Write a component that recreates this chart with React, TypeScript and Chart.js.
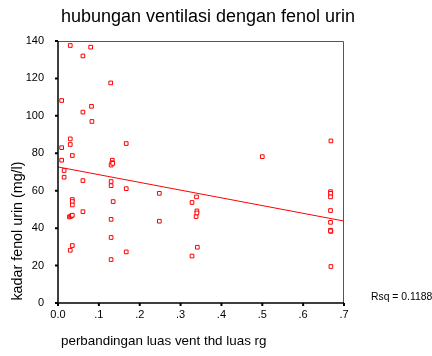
import React, { useEffect, useRef } from "react";
import { Chart, registerables } from "chart.js";

Chart.register(...registerables);

const TITLE = "hubungan ventilasi dengan fenol urin";
const X_LABEL = "perbandingan luas vent thd luas rg";
const Y_LABEL = "kadar fenol urin (mg/l)";
const RSQ_LABEL = "Rsq = 0.1188";

// ratio of vent area to room area
const ventRatio = [
  0.030, 0.080, 0.061, 0.129, 0.009, 0.061, 0.082, 0.083, 0.030, 0.030,
  0.009, 0.167, 0.009, 0.035, 0.133, 0.132, 0.130, 0.134, 0.015, 0.015,
  0.061, 0.130, 0.130, 0.167, 0.248, 0.328, 0.339, 0.035, 0.035, 0.035,
  0.135, 0.028, 0.031, 0.033, 0.035, 0.061, 0.130, 0.248, 0.338, 0.340,
  0.340, 0.130, 0.035, 0.030, 0.167, 0.130, 0.328, 0.341, 0.667, 0.667,
  0.667, 0.667, 0.667, 0.667, 0.668, 0.667, 0.668, 0.668, 0.500,
];
// urinary phenol (mg/l)
const phenol = [
  137.6, 136.7, 132.0, 117.6, 108.2, 102.0, 105.1, 97.0, 87.7, 84.7,
  83.0, 85.2, 76.3, 78.8, 76.3, 75.0, 73.7, 74.6, 70.8, 67.2,
  65.4, 64.9, 62.7, 61.1, 58.6, 53.7, 56.7, 55.3, 54.2, 52.4,
  54.2, 46.0, 46.3, 46.6, 46.9, 48.8, 44.7, 43.7, 46.2, 49.2,
  48.1, 35.0, 30.7, 28.2, 27.3, 23.2, 25.1, 29.8, 59.5, 58.6,
  56.7, 49.4, 43.1, 38.9, 38.3, 38.5, 19.5, 86.6, 78.2,
];

const FIT_INTERCEPT = 72.7;
const FIT_SLOPE = -41.3;
const X_RANGE = [0, 0.7];
const Y_RANGE = [0, 140];
const X_TICKS = [0, 0.1, 0.2, 0.3, 0.4, 0.5, 0.6, 0.7];
const Y_TICKS = [0, 20, 40, 60, 80, 100, 120, 140];

const RED = "#ff0000";
const FONT = "'Liberation Sans', Arial, sans-serif";

function fmtX(v: number) {
  if (Math.abs(v) < 1e-9) return "0.0";
  return "." + Math.round(v * 10);
}

export default function App() {
  const ref = useRef<HTMLCanvasElement>(null);
  useEffect(() => {
    if (!ref.current) return;
    const pts = ventRatio.map((x, i) => ({ x, y: phenol[i] }));
    const fit = X_RANGE.map((x) => ({ x, y: FIT_INTERCEPT + FIT_SLOPE * x }));

    const deco = {
      id: "deco",
      afterDraw(chart: any) {
        const { ctx, chartArea: a } = chart;
        ctx.save();
        // frame
        ctx.strokeStyle = "#555";
        ctx.lineWidth = 1;
        ctx.beginPath();
        ctx.moveTo(a.left, a.top + 0.5);
        ctx.lineTo(a.right - 0.5, a.top + 0.5);
        ctx.lineTo(a.right - 0.5, a.bottom);
        ctx.stroke();
        ctx.strokeStyle = "#000";
        ctx.lineWidth = 1.5;
        ctx.beginPath();
        ctx.moveTo(a.left, a.top);
        ctx.lineTo(a.left, a.bottom);
        ctx.lineTo(a.right, a.bottom);
        ctx.stroke();
        // texts
        ctx.fillStyle = "#000";
        ctx.textBaseline = "middle";
        ctx.textAlign = "center";
        ctx.font = `18px ${FONT}`;
        ctx.fillText(TITLE, 208, 17);
        ctx.textAlign = "left";
        ctx.font = `13.4px ${FONT}`;
        ctx.fillText(X_LABEL, 61, 341);
        ctx.font = `10.4px ${FONT}`;
        ctx.fillText(RSQ_LABEL, 371, 297);
        ctx.save();
        ctx.translate(18, 231);
        ctx.rotate(-Math.PI / 2);
        ctx.textAlign = "center";
        ctx.font = `14.3px ${FONT}`;
        ctx.fillText(Y_LABEL, 0, 0);
        ctx.restore();
        ctx.restore();
      },
    };

    const chart = new Chart(ref.current, {
      type: "scatter",
      data: {
        datasets: [
          {
            data: pts,
            pointStyle: "rect",
            radius: 2.6,
            borderColor: RED,
            backgroundColor: "#fff",
            borderWidth: 1,
          },
          {
            type: "line",
            data: fit,
            borderColor: RED,
            borderWidth: 1,
            pointRadius: 0,
            fill: false,
          } as any,
        ],
      },
      options: {
        animation: false,
        responsive: false,
        layout: { padding: { top: 41, right: 88, left: 0, bottom: 0 } },
        plugins: { legend: { display: false }, tooltip: { enabled: false }, title: { display: false } },
        scales: {
          x: {
            type: "linear",
            min: X_RANGE[0],
            max: X_RANGE[1],
            border: { display: false },
            grid: { display: false, drawTicks: true, tickLength: 3, color: "#000" },
            afterBuildTicks: (s: any) => { s.ticks = X_TICKS.map((v) => ({ value: v })); },
            afterFit: (s: any) => { s.height = 53; },
            ticks: {
              callback: (v: any) => fmtX(Number(v)),
              color: "#000",
              font: { family: FONT, size: 11 },
              padding: 2,
              maxRotation: 0,
            },
          },
          y: {
            type: "linear",
            min: Y_RANGE[0],
            max: Y_RANGE[1],
            border: { display: false },
            grid: { display: false },
            afterBuildTicks: (s: any) => { s.ticks = Y_TICKS.map((v) => ({ value: v })); },
            afterFit: (s: any) => { s.width = 58; },
            ticks: {
              color: "#000",
              font: { family: FONT, size: 11 },
              padding: 6,
            },
          },
        },
      },
      plugins: [
        deco,
        {
          id: "tickmarks",
          afterDraw(chart: any) {
            const { ctx, chartArea: a, scales } = chart;
            ctx.save();
            ctx.strokeStyle = "#000";
            ctx.lineWidth = 2;
            ctx.beginPath();
            X_TICKS.forEach((v) => {
              const px = scales.x.getPixelForValue(v);
              ctx.moveTo(px, a.bottom);
              ctx.lineTo(px, a.bottom + 3);
            });
            Y_TICKS.forEach((v) => {
              const py = scales.y.getPixelForValue(v);
              ctx.moveTo(a.left, py);
              ctx.lineTo(a.left - 3, py);
            });
            ctx.stroke();
            ctx.restore();
          },
        },
      ],
    });
    return () => chart.destroy();
  }, []);
  return (
    <div style={{ position: "fixed", left: 0, top: 0, width: 432, height: 356, background: "#fff" }}>
      <canvas ref={ref} width={432} height={356} style={{ display: "block" }} />
    </div>
  );
}
